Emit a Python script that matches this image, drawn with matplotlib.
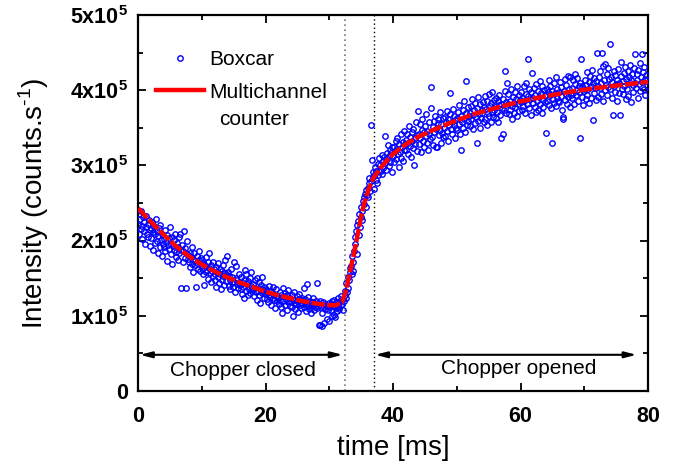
import numpy as np
import matplotlib
matplotlib.use("Agg")
import matplotlib.pyplot as plt
from matplotlib.lines import Line2D
from matplotlib.ticker import MultipleLocator, FuncFormatter

plt.rcParams['font.family'] = ['Liberation Sans', 'DejaVu Sans']
plt.rcParams['mathtext.fontset'] = 'custom'
plt.rcParams['mathtext.rm'] = 'Liberation Sans'
plt.rcParams['mathtext.bf'] = 'Liberation Sans:bold'

# boxcar signal, one sample every 0.1 ms, intensity in units of 1e5 counts/s
boxcar_e5 = [
    2.21, 2.35, 2.08, 2.28, 2.15, 2.39, 2.02, 2.19, 2.31, 2.12, 2.25, 1.96, 2.18, 2.33, 2.09, 2.22, 2.05, 2.27, 2.14, 1.93,
    2.16, 2.03, 2.24, 1.88, 2.11, 2.19, 1.97, 2.08, 2.29, 1.99, 2.13, 1.84, 2.06, 2.17, 1.92, 2.21, 2.01, 1.79, 2.09, 1.95,
    2.02, 1.91, 2.14, 1.86, 1.98, 2.07, 1.73, 1.94, 2.03, 1.89, 2.18, 1.96, 1.82, 2.05, 1.69, 1.93, 2.01, 1.87, 2.09, 1.78,
    1.85, 1.97, 1.74, 1.91, 1.83, 2.05, 2.08, 1.37, 1.88, 1.94, 1.71, 1.86, 2.12, 1.77, 1.90, 1.37, 1.84, 2.00, 1.75, 1.81,
    1.72, 1.83, 1.65, 1.78, 1.91, 1.69, 1.58, 1.76, 1.84, 1.67, 1.73, 1.38, 1.80, 1.70, 1.62, 1.86, 1.74, 1.59, 1.68, 1.77,
    1.63, 1.74, 1.55, 1.69, 1.41, 1.66, 1.78, 1.58, 1.61, 1.72, 1.49, 1.64, 1.83, 1.57, 1.67, 1.45, 1.60, 1.71, 1.53, 1.62,
    1.56, 1.47, 1.65, 1.38, 1.58, 1.70, 1.51, 1.44, 1.62, 1.55, 1.36, 1.59, 1.48, 1.67, 1.53, 1.41, 1.57, 1.74, 1.46, 1.54,
    1.80, 1.58, 1.40, 1.53, 1.35, 1.47, 1.62, 1.43, 1.52, 1.38, 1.72, 1.45, 1.31, 1.50, 1.66, 1.42, 1.48, 1.37, 1.55, 1.44,
    1.41, 1.36, 1.52, 1.29, 1.44, 1.38, 1.47, 1.23, 1.61, 1.55, 1.33, 1.42, 1.27, 1.46, 1.35, 1.50, 1.30, 1.39, 1.58, 1.34,
    1.35, 1.42, 1.26, 1.37, 1.48, 1.31, 1.21, 1.50, 1.33, 1.45, 1.28, 1.36, 1.17, 1.41, 1.30, 1.52, 1.34, 1.24, 1.38, 1.29,
    1.29, 1.36, 1.22, 1.31, 1.18, 1.27, 1.40, 1.25, 1.33, 1.14, 1.30, 1.24, 1.38, 1.21, 1.28, 1.10, 1.26, 1.35, 1.19, 1.23,
    1.25, 1.16, 1.32, 1.21, 1.28, 1.11, 1.04, 1.37, 1.19, 1.26, 1.14, 1.30, 1.22, 1.08, 1.27, 1.18, 1.34, 1.20, 1.24, 1.13,
    1.20, 1.27, 1.12, 0.99, 1.17, 1.31, 1.09, 1.21, 1.15, 1.26, 1.19, 1.05, 1.22, 1.29, 1.14, 1.18, 1.10, 1.24, 1.16, 1.21,
    1.37, 1.11, 1.22, 1.15, 1.06, 1.42, 1.13, 1.25, 1.09, 1.16, 1.20, 1.12, 1.03, 1.18, 1.14, 1.23, 1.08, 1.15, 1.11, 1.19,
    1.43, 1.10, 1.17, 1.13, 0.87, 1.20, 0.88, 1.12, 0.86, 1.04, 1.18, 0.90, 1.11, 1.16, 1.09, 1.14, 0.95, 1.13, 1.08, 1.17,
    0.93, 1.12, 1.16, 1.07, 1.19, 0.99, 1.13, 1.21, 1.01, 0.98, 1.10, 1.18, 1.06, 1.24, 1.12, 1.17, 1.09, 1.20, 1.14, 1.26,
    1.15, 1.22, 1.08, 1.19, 1.27, 1.33, 1.24, 1.43, 1.31, 1.52, 1.37, 1.47, 1.63, 1.58, 1.66, 1.55, 1.79, 1.72, 1.60, 1.86,
    2.04, 1.96, 2.12, 1.82, 2.21, 2.26, 2.07, 2.35, 2.18, 2.31, 2.44, 2.39, 2.27, 2.52, 2.48, 2.58, 2.62, 2.45, 2.67, 2.60,
    2.70, 2.58, 2.76, 2.83, 2.66, 2.79, 3.53, 3.07, 2.85, 2.91, 2.69, 2.88, 2.98, 2.81, 2.93, 2.77, 3.02, 2.87, 3.10, 2.94,
    3.01, 2.92, 3.14, 2.88, 3.06, 2.97, 3.11, 3.39, 3.03, 2.94, 3.17, 3.08, 3.27, 2.99, 3.12, 3.21, 3.05, 3.16, 2.91, 3.24,
    3.12, 3.25, 3.04, 3.19, 3.33, 3.08, 3.22, 3.36, 3.15, 2.98, 3.28, 3.18, 3.41, 3.10, 3.24, 3.31, 3.06, 3.46, 3.20, 3.29,
    3.34, 3.21, 3.42, 3.15, 3.30, 3.52, 3.26, 3.38, 3.11, 3.44, 3.33, 3.23, 3.48, 3.01, 3.36, 3.29, 3.57, 3.19, 3.40, 3.72,
    3.41, 3.29, 3.55, 3.36, 3.18, 3.47, 3.61, 3.33, 3.44, 3.25, 3.52, 3.39, 3.68, 3.30, 3.46, 3.21, 3.58, 3.42, 3.35, 3.76,
    4.04, 3.38, 3.51, 3.27, 3.59, 3.44, 3.66, 3.24, 3.48, 3.24, 3.56, 3.62, 3.40, 3.71, 3.47, 3.30, 3.55, 3.43, 3.63, 3.37,
    3.50, 3.64, 3.39, 3.57, 3.72, 3.45, 3.61, 3.33, 3.54, 3.68, 3.96, 3.48, 3.58, 3.42, 3.75, 3.53, 3.65, 3.36, 3.60, 3.49,
    3.63, 3.47, 3.71, 3.55, 3.80, 3.41, 3.20, 3.66, 3.58, 3.74, 3.50, 3.62, 3.86, 3.44, 4.12, 3.69, 3.53, 3.77, 3.59, 3.65,
    3.70, 3.52, 3.79, 3.61, 3.88, 3.48, 3.67, 3.74, 3.56, 3.83, 3.64, 3.30, 3.76, 3.59, 3.91, 3.68, 3.50, 3.81, 3.63, 3.73,
    3.69, 3.84, 3.57, 3.77, 3.92, 3.62, 3.75, 3.53, 3.86, 3.70, 3.95, 3.66, 3.79, 3.58, 3.83, 3.71, 3.98, 3.64, 3.87, 3.74,
    3.78, 3.63, 3.90, 3.71, 3.85, 3.58, 3.80, 3.94, 3.67, 3.82, 3.36, 3.76, 3.88, 3.42, 3.73, 3.99, 4.25, 3.69, 3.84, 4.10,
    3.81, 3.95, 3.68, 3.86, 3.74, 4.02, 3.79, 3.62, 3.91, 3.83, 3.70, 3.97, 3.77, 3.88, 3.65, 4.05, 3.82, 3.93, 3.72, 3.87,
    3.84, 3.98, 3.73, 3.90, 3.79, 4.06, 3.86, 3.69, 3.95, 4.10, 3.81, 4.42, 3.92, 3.76, 4.01, 3.88, 3.67, 3.97, 4.23, 3.83,
    3.89, 4.03, 3.78, 3.94, 3.71, 4.08, 3.86, 3.99, 3.74, 3.91, 4.12, 3.82, 3.96, 3.69, 4.05, 3.87, 3.77, 4.00, 3.84, 3.93,
    3.43, 4.01, 3.85, 3.97, 4.14, 3.80, 3.93, 4.06, 3.76, 3.99, 3.30, 3.88, 4.09, 3.83, 3.96, 4.17, 3.79, 4.02, 3.90, 3.86,
    3.98, 3.84, 4.11, 3.92, 4.04, 3.74, 3.64, 3.62, 3.99, 4.15, 3.87, 4.07, 3.95, 3.81, 4.19, 3.91, 4.02, 3.78, 4.17, 3.94,
    4.03, 3.89, 4.13, 3.96, 3.82, 4.08, 4.22, 3.93, 4.00, 4.16, 3.85, 4.05, 3.97, 3.36, 4.10, 4.42, 3.91, 4.06, 3.80, 4.01,
    3.99, 4.14, 3.88, 4.07, 4.24, 3.94, 4.02, 3.83, 4.11, 4.19, 3.90, 4.05, 4.27, 3.60, 4.09, 3.96, 4.16, 4.03, 3.87, 4.12,
    4.49, 4.06, 3.91, 4.18, 4.03, 4.26, 3.95, 4.10, 4.49, 3.86, 4.32, 4.13, 4.00, 4.35, 4.07, 3.93, 4.21, 4.30, 4.04, 4.15,
    4.61, 4.02, 4.17, 3.89, 4.11, 3.67, 4.25, 4.06, 3.98, 4.20, 4.08, 3.85, 4.14, 4.28, 3.96, 4.09, 3.67, 4.37, 4.19, 4.02,
    4.12, 3.95, 4.23, 4.06, 4.31, 3.88, 4.15, 4.01, 4.26, 3.92, 4.18, 4.09, 4.34, 3.84, 4.13, 4.21, 3.97, 4.07, 4.29, 4.10,
    4.48, 4.03, 4.22, 4.14, 3.90, 4.27, 4.08, 4.36, 3.99, 4.17, 4.48, 4.11, 4.24, 4.02, 4.31, 4.15, 3.94, 4.20, 4.06, 4.13,
]
boxcar_t = np.arange(len(boxcar_e5)) * 0.1

# multichannel counter trace
mcs_t = [0, 2, 4, 6, 8, 10, 12, 14, 16, 18, 20, 22, 24, 26, 28, 30, 31, 32, 32.5, 33,
         33.5, 34, 34.5, 35, 35.5, 36, 36.5, 37, 38, 39, 40, 42, 44, 46, 48, 50, 53,
         56, 60, 64, 68, 72, 76, 80]
mcs_e5 = [2.43, 2.25, 2.08, 1.92, 1.79, 1.68, 1.59, 1.51, 1.44, 1.38, 1.32, 1.27, 1.23,
          1.19, 1.16, 1.14, 1.14, 1.18, 1.30, 1.48, 1.68, 1.88, 2.10, 2.32, 2.50, 2.64,
          2.75, 2.84, 2.96, 3.06, 3.15, 3.28, 3.38, 3.46, 3.53, 3.60, 3.69, 3.76, 3.85,
          3.92, 3.98, 4.03, 4.07, 4.11]

chopper_close_t = 32.4
chopper_open_t = 37.0

fig = plt.figure(figsize=(6.85, 4.67), dpi=100)
ax = fig.add_axes([0.2015, 0.163, 0.7445, 0.805])

ax.plot(boxcar_t, boxcar_e5, 'o', ls='none', ms=3.9, mfc='none', mec='#0000ff',
        mew=1.0, zorder=3)
ax.plot(mcs_t, mcs_e5, color='#ff0000', lw=3.2, ls=(0, (3, 0.5)), zorder=4)

ax.axvline(chopper_close_t, color='#777777', ls=(0, (1, 2)), lw=1.2, zorder=1)
ax.axvline(chopper_open_t, color='black', ls=(0, (1, 2)), lw=1.0, zorder=1)

arrow = dict(arrowstyle='<|-|>,head_length=0.7,head_width=0.18', color='black',
             lw=1.5, shrinkA=0, shrinkB=0)
ax.annotate('', xy=(0.3, 0.48), xytext=(32.1, 0.48), arrowprops=arrow)
ax.annotate('', xy=(37.2, 0.48), xytext=(78.2, 0.48), arrowprops=arrow)
ax.text(16.5, 0.27, 'Chopper closed', ha='center', va='center', fontsize=15)
ax.text(59.7, 0.30, 'Chopper opened', ha='center', va='center', fontsize=15)

ax.set_xlim(0, 80)
ax.set_ylim(0, 5)
ax.xaxis.set_major_locator(MultipleLocator(20))
ax.xaxis.set_minor_locator(MultipleLocator(10))
ax.yaxis.set_major_locator(MultipleLocator(1))
ax.yaxis.set_minor_locator(MultipleLocator(0.5))
ax.yaxis.set_major_formatter(FuncFormatter(
    lambda v, p: '0' if v == 0 else r'$\mathbf{%dx10^{5}}$' % round(v)))
ax.tick_params(which='both', direction='in', top=True, right=True, width=1.3)
ax.tick_params(which='major', length=6, labelsize=15.5)
ax.tick_params(which='minor', length=3.5)
ax.tick_params(axis='x', which='major', pad=11)
ax.tick_params(axis='y', which='major', pad=7)
for lbl in ax.get_xticklabels() + ax.get_yticklabels():
    lbl.set_fontweight('bold')
for s in ax.spines.values():
    s.set_linewidth(1.6)

ax.set_xlabel('time [ms]', fontsize=20, labelpad=6)
ax.set_ylabel(r'Intensity (counts.s$^{\text{-}1}$)', fontsize=20, labelpad=14)

handles = [Line2D([], [], marker='o', ls='none', ms=3.9, mfc='none', mec='#0000ff', mew=1.0),
           Line2D([], [], color='#ff0000', lw=3.2)]
ax.legend(handles, ['Boxcar', 'Multichannel'], loc='upper left',
          bbox_to_anchor=(0.01, 0.94), frameon=False, fontsize=15,
          handlelength=2.3, handletextpad=0.25, labelspacing=0.65,
          borderaxespad=0.2)
# second line of the multichannel label, indented under the first
ax.text(0.159, 0.723, 'counter', transform=ax.transAxes, ha='left', va='center',
        fontsize=15)

fig.savefig('out.png', dpi=100)
